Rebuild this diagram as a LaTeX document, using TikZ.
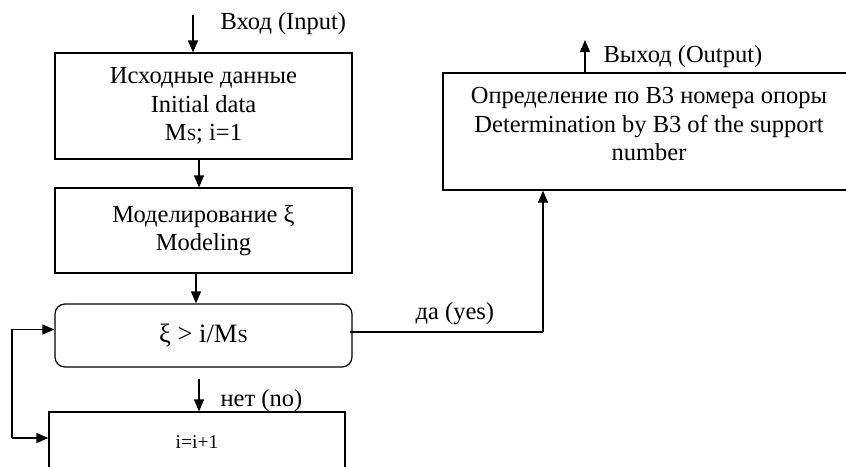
\documentclass[tikz,border=0pt]{standalone}
\usepackage{fontspec}
\setmainfont{Liberation Serif}
\usetikzlibrary{arrows.meta,calc,positioning}
\newcommand{\msub}[1]{M{\fontsize{#1}{#1}\selectfont S}}

\begin{document}
\begin{tikzpicture}[x=1pt,y=-1pt,line width=1.25pt,
    txt/.style={font=\fontsize{24.5}{28.5}\selectfont,align=center,inner sep=0pt},
    blk/.style={draw,txt},
    arr/.style={-{Triangle[length=12pt,width=10pt]}}]
  \clip (0,0) rectangle (846,466);
  % blocks
  \node[blk,minimum width=297pt,minimum height=106pt] (init) at (203.5,106) {Исходные данные\\Initial data\\\msub{17}; i=1};
  \node[blk,minimum width=297pt,minimum height=85pt] (model) at (203.5,230.5) {Моделирование ξ\\Modeling};
  \node[blk,rounded corners=10pt,minimum width=297pt,minimum height=63pt,font=\fontsize{26.5}{30}\selectfont] (cond) at (203.5,335.5) {ξ > i/\msub{18.5}};
  \node[blk,minimum width=296pt,minimum height=60pt,font=\fontsize{19.5}{22}\selectfont] (inc) at (197,442) {i=i+1};
  \node[draw,minimum width=412pt,minimum height=117pt] (out) at (649,131.5) {};
  \node[txt] (outtxt) at (649,124.5) {Определение по В3 номера опоры\\Determination by B3 of the support\\number};
  % connectors
  \coordinate (in) at (193,15);
  \coordinate (nobeg) at (199,379);
  \coordinate (loop) at (12,438);
  \coordinate (yes) at (543,332);
  \coordinate (outend) at (585,40);
  \draw[arr] (in) -- (in |- init.north);
  \node[txt,anchor=west] (inlab) at (220,24) {Вход (Input)};
  \draw[arr] ([xshift=-4.5pt]init.south) -- ([xshift=-4.5pt]model.north);
  \draw[arr] ([xshift=-7.5pt]model.south) -- ([xshift=-7.5pt]cond.north);
  \draw[arr] (nobeg) -- (nobeg |- inc.north);
  \node[txt,anchor=west] (nolab) at (220,401) {нет (no)};
  \draw[arr] (loop) -- (loop -| inc.west);
  \draw[arr] (loop) |- ([yshift=6pt]cond.west);
  \draw ([xshift=-3pt,yshift=3.5pt]cond.east) -- (yes);
  \draw[arr] (yes) -- (yes |- out.south);
  \node[txt,anchor=west] (yeslab) at (415,314) {да (yes)};
  \draw[arr] (outend |- out.north) -- (outend);
  \node[txt,anchor=west] (outlab) at (603,57) {Выход (Output)};
\end{tikzpicture}
\end{document}
